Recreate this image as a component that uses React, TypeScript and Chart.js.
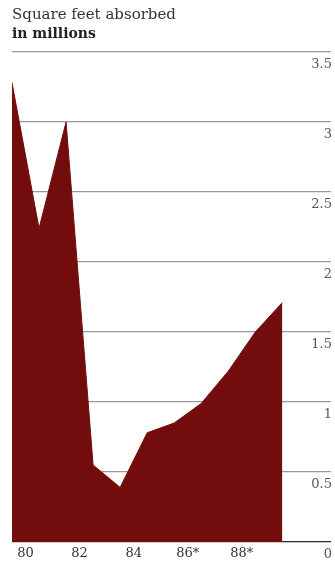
import React, { useEffect, useRef } from "react";
import { Chart, registerables } from "chart.js";

Chart.register(...registerables);

const pointIndex = [0, 1, 2, 3, 4, 5, 6, 7, 8, 9, 10];
const absorbed = [3.28, 2.24, 3.0, 0.55, 0.39, 0.78, 0.85, 0.99, 1.22, 1.5, 1.71];
const yearTickPositions = [0.5, 2.5, 4.5, 6.5, 8.5];
const yearTickLabels = ["80", "82", "84", "86*", "88*"];
const yTicks = [0, 0.5, 1, 1.5, 2, 2.5, 3, 3.5];
const titleLine1 = "Square feet absorbed";
const titleLine2 = "in millions";

const FONT = "'DejaVu Serif', 'Liberation Serif', serif";
const RED = "#730d0d";

export default function App() {
  const ref = useRef<HTMLCanvasElement | null>(null);

  useEffect(() => {
    if (!ref.current) return;
    const chart = new Chart(ref.current, {
      type: "line",
      data: {
        datasets: [
          {
            data: pointIndex.map((x, i) => ({ x, y: absorbed[i] })),
            borderColor: RED,
            backgroundColor: RED,
            borderWidth: 1,
            fill: "origin",
            pointRadius: 0,
            tension: 0,
          },
        ],
      },
      options: {
        animation: false,
        responsive: false,
        maintainAspectRatio: false,
        layout: { padding: { left: 12, right: 2, top: 0, bottom: 0 } },
        plugins: {
          legend: { display: false },
          tooltip: { enabled: false },
          title: {
            display: true,
            text: titleLine1,
            align: "start",
            color: "#333",
            font: { family: FONT, size: 15, weight: "normal", lineHeight: 1.2 },
            padding: { top: 6, bottom: 2 },
          },
          subtitle: {
            display: true,
            text: titleLine2,
            align: "start",
            color: "#222",
            font: { family: FONT, size: 14, weight: "bold", lineHeight: 1.2 },
            padding: { top: 0, bottom: 9.2 },
          },
        },
        scales: {
          x: {
            type: "linear",
            min: 0,
            max: 11.8,
            afterBuildTicks: (axis: any) => {
              axis.ticks = yearTickPositions.map((v) => ({ value: v }));
            },
            afterFit: (axis: any) => {
              axis.height = 29;
            },
            ticks: {
              autoSkip: false,
              maxRotation: 0,
              padding: 4,
              color: "#333",
              font: { family: FONT, size: 13 },
              callback: (v: any) => {
                const i = yearTickPositions.indexOf(Number(v));
                return i >= 0 ? yearTickLabels[i] : "";
              },
            },
            grid: { display: false, drawTicks: false },
            border: { display: false },
          },
          y: {
            position: "right",
            min: 0,
            max: 3.5,
            z: 1,
            afterBuildTicks: (axis: any) => {
              axis.ticks = yTicks.map((v) => ({ value: v }));
            },
            ticks: {
              mirror: true,
              padding: 1,
              labelOffset: 13,
              color: "#555",
              font: { family: FONT, size: 13 },
              callback: (v: any) => String(v),
            },
            grid: {
              drawTicks: false,
              color: (ctx: any) =>
                ctx.tick && ctx.tick.value === 0 ? "rgba(20,20,20,0.9)" : "rgba(70,70,70,0.55)",
              lineWidth: 1.2,
            },
            border: { display: false },
          },
        },
      },
    });
    return () => chart.destroy();
  }, []);

  return (
    <div style={{ position: "fixed", left: 0, top: 0, width: 335, height: 571, background: "#fff" }}>
      <canvas ref={ref} width={335} height={571} style={{ display: "block" }} />
    </div>
  );
}
